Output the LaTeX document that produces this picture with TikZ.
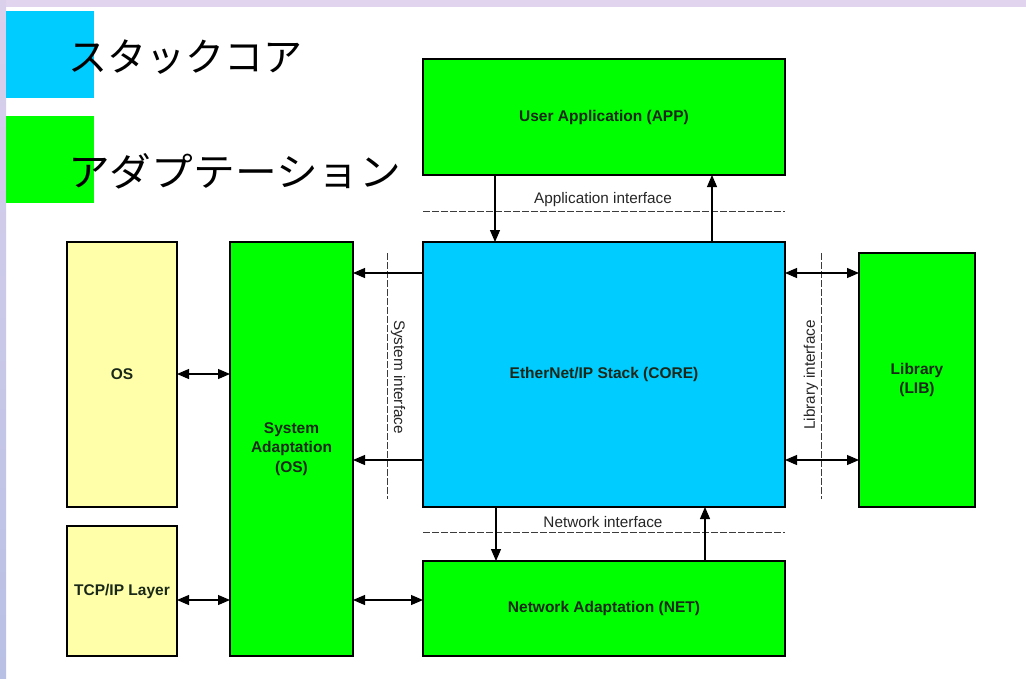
\documentclass[tikz,border=0pt]{standalone}
\usepackage{fontspec}
\setmainfont{Liberation Sans}
\newfontfamily\jpfont{Noto Sans CJK JP}
\usetikzlibrary{arrows.meta}
\definecolor{corecyan}{RGB}{0,204,255}
\definecolor{adgreen}{RGB}{0,255,0}
\definecolor{osyellow}{RGB}{255,255,170}
\definecolor{lavtop}{RGB}{224,212,238}
\definecolor{lavleft1}{RGB}{218,208,236}
\definecolor{lavleft2}{RGB}{184,192,228}
\definecolor{boxtext}{RGB}{25,40,25}
\definecolor{dashgray}{RGB}{60,60,60}
\tikzset{
  blk/.style={draw=black, line width=2.2pt, inner sep=0pt, outer sep=0pt, anchor=north west,
              font=\fontsize{15.5}{19.5}\selectfont\bfseries, text=boxtext, align=center},
  coreblk/.style={blk, fill=corecyan},
  adblk/.style={blk, fill=adgreen},
  osblk/.style={blk, fill=osyellow},
  arr/.style={line width=1.1pt, -{Triangle[length=12pt,width=10pt]}},
  darr/.style={line width=1.1pt, {Triangle[length=12pt,width=10pt]}-{Triangle[length=12pt,width=10pt]}},
  iface/.style={draw=dashgray, line width=0.9pt, dash pattern=on 7pt off 2pt},
  ifacelabel/.style={font=\fontsize{15.3}{17}\selectfont, text=black!85, inner sep=0pt},
  legendtxt/.style={font=\jpfont\fontsize{39}{42}\selectfont, anchor=west, inner sep=0pt}
}
\begin{document}
\begin{tikzpicture}[x=1pt,y=-1pt]
\useasboundingbox (0,0) rectangle (1026,678);
% background
\fill[white] (0,0) rectangle (1026,678);
\fill[lavtop] (0,0) rectangle (1026,7);
\shade[top color=lavleft1, bottom color=lavleft2] (0,0) rectangle (6,678);

% legend
\fill[corecyan] (6,11) rectangle (94,98);
\fill[adgreen] (6,116) rectangle (94,203);
\node[legendtxt] (lg1) at (68,57) {スタックコア};
\node[legendtxt, xscale=1.07] (lg2) at (68,171) {アダプテーション};

% blocks
\node[adblk, minimum width=362pt, minimum height=116pt] (app) at (423,59) {User Application (APP)};
\node[coreblk, minimum width=362pt, minimum height=265pt] (core) at (423,242) {EtherNet/IP Stack (CORE)};
\node[adblk, minimum width=362pt, minimum height=95pt] (net) at (423,561) {Network Adaptation (NET)};
\node[adblk, minimum width=123pt, minimum height=414pt] (sys) at (230,242) {System\\Adaptation\\(OS)};
\node[osblk, minimum width=110pt, minimum height=265pt] (os) at (67,242) {OS};
\node[osblk, minimum width=110pt, minimum height=130pt] (tcp) at (67,526) {TCP/IP Layer};
\node[adblk, minimum width=116pt, minimum height=254pt] (lib) at (859,253) {Library\\(LIB)};

% interface lines
\draw[iface] (423,211) -- (785,211);
\node[ifacelabel] (lapp) at (603,200) {Application interface};
\draw[iface] (423,532) -- (785,532);
\node[ifacelabel] (lnet) at (603,522) {Network interface};
\draw[iface] (387,253) -- (387,499);
\node[ifacelabel, rotate=-90] (lsys) at (398,377) {System interface};
\draw[iface] (821,253) -- (821,499);
\node[ifacelabel, rotate=90] (llib) at (811,375) {Library interface};

% helper coordinates
\coordinate (xa) at (495,0);
\coordinate (xb) at (712,0);
\coordinate (xc) at (496,0);
\coordinate (xd) at (705,0);
\coordinate (ya) at (0,273);
\coordinate (yb) at (0,460);
\coordinate (yos) at (0,374);
\coordinate (ytcp) at (0,600);

% connectors
\draw[arr] (app.south -| xa) -- (core.north -| xa);
\draw[arr] (core.north -| xb) -- (app.south -| xb);
\draw[arr] (core.south -| xc) -- (net.north -| xc);
\draw[arr] (net.north -| xd) -- (core.south -| xd);
\draw[arr] (core.west |- ya) -- (sys.east |- ya);
\draw[arr] (core.west |- yb) -- (sys.east |- yb);
\draw[darr] (core.east |- ya) -- (lib.west |- ya);
\draw[darr] (core.east |- yb) -- (lib.west |- yb);
\draw[darr] (os.east |- yos) -- (sys.west |- yos);
\draw[darr] (tcp.east |- ytcp) -- (sys.west |- ytcp);
\draw[darr] (sys.east |- ytcp) -- (net.west |- ytcp);
\end{tikzpicture}
\end{document}
